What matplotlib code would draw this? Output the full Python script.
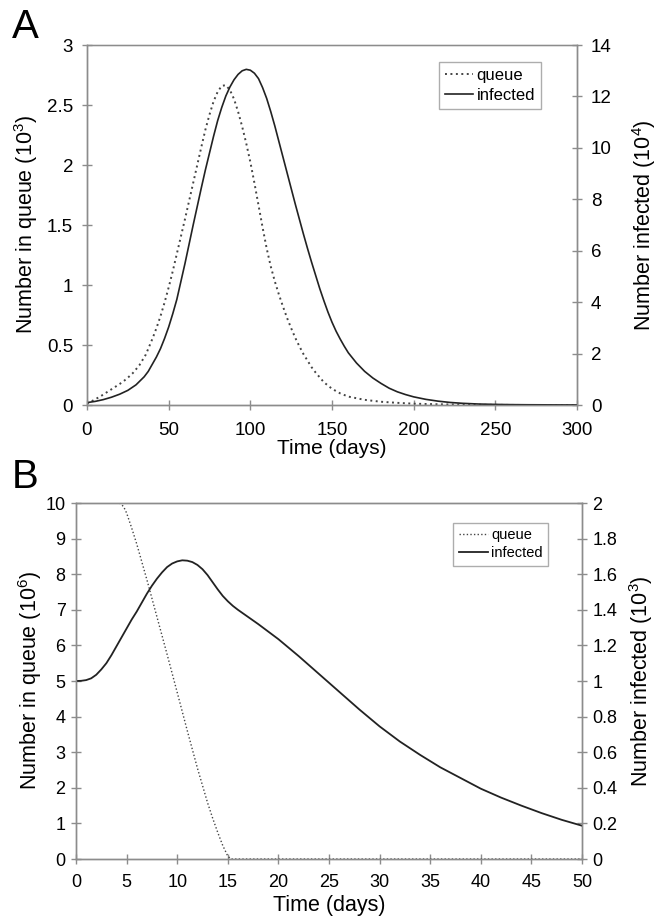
import matplotlib
matplotlib.use("Agg")
import matplotlib.pyplot as plt

plt.rcParams['font.family'] = ['Liberation Sans', 'DejaVu Sans']
plt.rcParams['mathtext.fontset'] = 'custom'
plt.rcParams['mathtext.rm'] = 'Liberation Sans'
plt.rcParams['mathtext.it'] = 'Liberation Sans'

# ---------------- Panel A data ----------------
t_queue_A = [0, 4, 8, 12, 16, 20, 24, 28, 32, 36, 40, 42.5, 45, 47.5, 50, 52.5, 55, 57.5,
             60, 62.5, 65, 67.5, 70, 72.5, 75, 77.5, 80, 82.5, 85, 87.5, 90, 92.5, 95,
             97.5, 100, 102.5, 105, 107.5, 110, 112.5, 115, 117.5, 120, 122.5, 125, 127.5,
             130, 132.5, 135, 137.5, 140, 145, 150, 155, 160, 170, 180, 190, 200, 215,
             230, 250, 270, 300]
queue_A = [0.01, 0.04, 0.07, 0.105, 0.14, 0.175, 0.215, 0.265, 0.33, 0.42, 0.55, 0.64,
           0.74, 0.855, 0.98, 1.115, 1.26, 1.405, 1.55, 1.70, 1.85, 2.0, 2.15, 2.295, 2.42,
           2.53, 2.61, 2.66, 2.665, 2.625, 2.55, 2.445, 2.32, 2.18, 2.025, 1.85, 1.665,
           1.48, 1.305, 1.155, 1.03, 0.92, 0.82, 0.725, 0.64, 0.56, 0.49, 0.425, 0.37,
           0.315, 0.27, 0.19, 0.135, 0.097, 0.07, 0.043, 0.027, 0.018, 0.011, 0.006,
           0.003, 0.001, 0.0, 0.0]  # thousands

t_inf_A = [0, 5, 10, 15, 20, 25, 30, 35, 37.5, 40, 42.5, 45, 47.5, 50, 52.5, 55, 57.5, 60,
           62.5, 65, 67.5, 70, 72.5, 75, 77.5, 80, 82.5, 85, 87.5, 90, 92.5, 95, 97.5, 100,
           102.5, 105, 107.5, 110, 112.5, 115, 117.5, 120, 122.5, 125, 127.5, 130, 132.5,
           135, 137.5, 140, 142.5, 145, 147.5, 150, 152.5, 155, 157.5, 160, 165, 170, 175,
           180, 185, 190, 195, 200, 207.5, 215, 222.5, 230, 240, 250, 260, 270, 285, 300]
infected_A = [0.093, 0.14, 0.21, 0.303, 0.42, 0.569, 0.784, 1.097, 1.307, 1.587, 1.867,
              2.193, 2.59, 3.033, 3.547, 4.107, 4.807, 5.507, 6.253, 7.0, 7.723, 8.447,
              9.147, 9.8, 10.453, 11.06, 11.573, 12.017, 12.367, 12.647, 12.857, 12.997,
              13.053, 13.02, 12.903, 12.693, 12.343, 11.923, 11.41, 10.85, 10.243, 9.637,
              9.03, 8.423, 7.817, 7.233, 6.65, 6.09, 5.553, 5.04, 4.527, 4.06, 3.617, 3.22,
              2.87, 2.567, 2.287, 2.03, 1.633, 1.307, 1.05, 0.84, 0.653, 0.513, 0.406,
              0.317, 0.219, 0.149, 0.098, 0.065, 0.037, 0.023, 0.014, 0.009, 0.005,
              0.002]  # 10^4

# ---------------- Panel B data ----------------
t_queue_B = [0, 4.3, 4.7, 5, 5.5, 6, 7, 8, 9, 10, 11, 12, 13, 13.5, 14, 14.5, 15, 15.3,
             20, 30, 40, 50]
queue_B = [10, 10, 9.9, 9.72, 9.3, 8.85, 7.85, 6.8, 5.75, 4.68, 3.6, 2.55, 1.58, 1.15,
           0.75, 0.38, 0.08, 0.0, 0, 0, 0, 0]  # 10^6

t_inf_B = [0, 0.5, 1, 1.5, 2, 2.5, 3, 3.5, 4, 4.5, 5, 5.5, 6, 6.5, 7, 7.5, 8, 8.5, 9,
           9.5, 10, 10.5, 11, 11.5, 12, 12.5, 13, 13.5, 14, 14.5, 15, 15.5, 16, 18, 20,
           22, 24, 26, 28, 30, 32, 34, 36, 38, 40, 42, 44, 46, 48, 50]
infected_B = [1.0, 1.001, 1.005, 1.015, 1.035, 1.065, 1.10, 1.145, 1.195, 1.245, 1.295,
              1.345, 1.39, 1.44, 1.49, 1.535, 1.575, 1.61, 1.64, 1.66, 1.672, 1.678,
              1.676, 1.668, 1.652, 1.628, 1.595, 1.555, 1.515, 1.478, 1.448, 1.422, 1.40,
              1.32, 1.235, 1.14, 1.04, 0.94, 0.84, 0.745, 0.66, 0.585, 0.515, 0.455,
              0.395, 0.345, 0.30, 0.258, 0.22, 0.187]  # 10^3

xticks_A = [0, 50, 100, 150, 200, 250, 300]
yticks_A_left = [0, 0.5, 1, 1.5, 2, 2.5, 3]
yticks_A_right = [0, 2, 4, 6, 8, 10, 12, 14]
xticks_B = list(range(0, 51, 5))
yticks_B_left = list(range(0, 11))
yticks_B_right = [0, 0.2, 0.4, 0.6, 0.8, 1, 1.2, 1.4, 1.6, 1.8, 2]

SPINE = '#8c8c8c'
LINE = '#222222'


def style_axes(ax, twin, fs, ypad, xpad):
    for a in (ax, twin):
        for s in a.spines.values():
            s.set_color(SPINE)
            s.set_linewidth(1.0)
        a.tick_params(direction='inout', length=7, width=1.0, color=SPINE,
                      labelsize=fs, pad=ypad)
    ax.tick_params(axis='x', pad=xpad)


W, H = 659, 916
fig = plt.figure(figsize=(W / 100, H / 100), dpi=100)

# ---------- Panel A ----------
axA = fig.add_axes([87 / W, 1 - 405 / H, (577 - 87) / W, (405 - 45) / H])
axA2 = axA.twinx()
lq, = axA.plot(t_queue_A, queue_A, color='#444444', lw=1.4, ls=(0, (1, 1.8)), label='queue')
li, = axA2.plot(t_inf_A, infected_A, color=LINE, lw=1.2, label='infected')
axA.set_xlim(0, 300)
axA.set_ylim(0, 3)
axA2.set_ylim(0, 14)
axA.set_xticks(xticks_A)
axA.set_yticks(yticks_A_left)
axA.set_yticklabels(['%g' % v for v in yticks_A_left])
axA2.set_yticks(yticks_A_right)
style_axes(axA, axA2, 13.5, 6.5, 9)
axA.spines['top'].set_color('#c0c0c0')
axA.set_xlabel('Time (days)', fontsize=15, labelpad=0)
axA.set_ylabel('Number in queue (10$^3$)', fontsize=15.5, labelpad=5)
axA2.set_ylabel('Number infected (10$^4$)', fontsize=15.5, labelpad=13)
legA = axA2.legend(handles=[lq, li], loc='upper right', bbox_to_anchor=(0.9265, 0.953),
                   fontsize=12, frameon=True, fancybox=False, handlelength=1.7,
                   handletextpad=0.2, borderpad=0.35, labelspacing=0.3,
                   borderaxespad=0)
legA.get_frame().set_edgecolor('#999999')
legA.get_frame().set_linewidth(1.0)
fig.text(12 / W, 1 - 27 / H, 'A', fontsize=29, va='center', ha='left')

# ---------- Panel B ----------
axB = fig.add_axes([76 / W, 1 - 859 / H, (582 - 76) / W, (859 - 503) / H])
axB2 = axB.twinx()
lq2, = axB.plot(t_queue_B, queue_B, color='#444444', lw=1.0, ls=(0, (1, 1.6)), label='queue')
li2, = axB2.plot(t_inf_B, infected_B, color=LINE, lw=1.3, label='infected')
axB.set_xlim(0, 50)
axB.set_ylim(0, 10)
axB2.set_ylim(0, 2)
axB.set_xticks(xticks_B)
axB.set_yticks(yticks_B_left)
axB2.set_yticks(yticks_B_right)
axB2.set_yticklabels(['%g' % v for v in yticks_B_right])
style_axes(axB, axB2, 13, 4, 7)
axB.set_xlabel('Time (days)', fontsize=15.5, labelpad=3)
axB.set_ylabel('Number in queue (10$^6$)', fontsize=15.5, labelpad=1)
axB2.set_ylabel('Number infected (10$^3$)', fontsize=15.5, labelpad=7)
legB = axB2.legend(handles=[lq2, li2], loc='upper right', bbox_to_anchor=(0.933, 0.944),
                   fontsize=10.5, frameon=True, fancybox=False, handlelength=2.0,
                   handletextpad=0.25, borderpad=0.35, labelspacing=0.3,
                   borderaxespad=0)
legB.get_frame().set_edgecolor('#999999')
legB.get_frame().set_linewidth(1.0)
fig.text(12 / W, 1 - 477 / H, 'B', fontsize=29, va='center', ha='left')

fig.savefig('out.png', dpi=100, facecolor='white')
